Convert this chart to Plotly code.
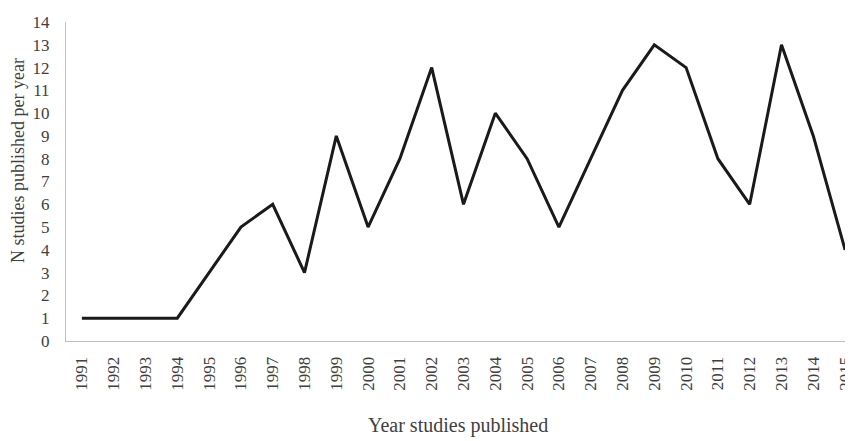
import plotly.graph_objects as go

years = [str(y) for y in range(1991, 2016)]
counts = [1, 1, 1, 1, 3, 5, 6, 3, 9, 5, 8, 12, 6, 10, 8, 5, 8, 11, 13, 12, 8, 6, 13, 9, 4]
y_ticks = list(range(0, 15))

FAM = "Liberation Serif, Times New Roman, serif"
GREY = "#404040"
# page body has an 8px margin; figure coordinates below account for it
L, T, B = 58, 14, 108
PW, PH = 853 - L, 441 - T - B

fig = go.Figure()
fig.add_trace(go.Scatter(x=years, y=counts, mode="lines",
                         line=dict(color="#1a1a1a", width=3)))

tickfont = dict(family=FAM, size=17, color=GREY)
fig.update_layout(
    width=853, height=441,
    margin=dict(l=L, r=0, t=T, b=B),
    plot_bgcolor="white", paper_bgcolor="white",
    showlegend=False,
    font=tickfont,
    xaxis=dict(type="category", range=[-0.5, 24.5], showgrid=False,
               showline=True, linecolor="#bfbfbf", linewidth=1,
               ticks="", tickangle=-90, ticklabelstandoff=8, tickfont=tickfont),
    yaxis=dict(range=[0, 14], tickvals=y_ticks, showgrid=False,
               showline=True, linecolor="#bfbfbf", linewidth=1,
               ticks="", ticklabelstandoff=12, tickfont=tickfont, zeroline=False),
    annotations=[
        dict(text="Year studies published", xref="paper", yref="paper",
             x=(458 - 8 - L) / PW, y=-(425 - 8 - (T + PH)) / PH, showarrow=False,
             xanchor="center", yanchor="middle",
             font=dict(family=FAM, size=20, color=GREY)),
        dict(text="N studies published per year", xref="paper", yref="paper",
             x=-(L - (18 - 8)) / PW, y=(T + PH - (161 - 8)) / PH, textangle=-90,
             xanchor="center", yanchor="middle", showarrow=False,
             font=dict(family=FAM, size=18, color=GREY)),
    ],
)
fig.write_html("out.html")
